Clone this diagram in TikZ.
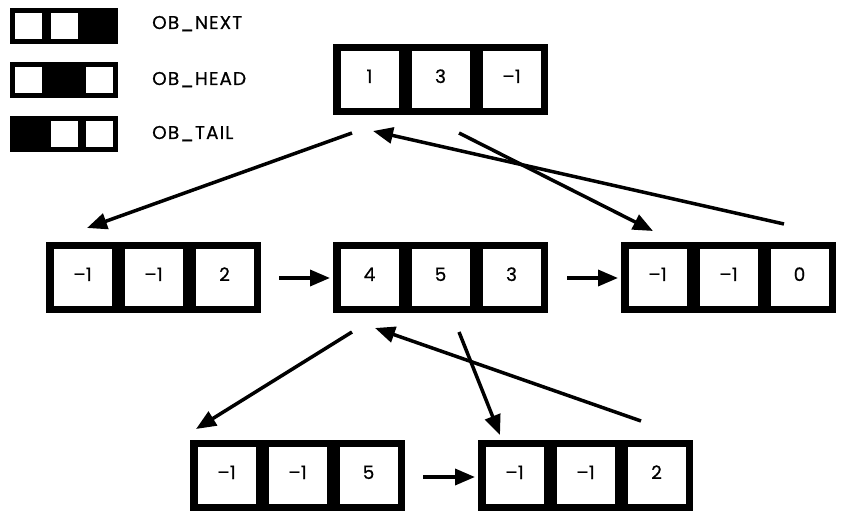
\documentclass[tikz,border=0pt]{standalone}
\usepackage{fontspec}
\setmainfont{Poppins}[FakeBold=0.6]
\newfontfamily\legfont{Poppins}[FakeBold=0.6, LetterSpace=6]
\usetikzlibrary{arrows.meta}
\tikzset{
  bigbox/.style={fill=black, draw=none, minimum width=215pt, minimum height=71pt, inner sep=0pt},
  cell/.style={fill=white, draw=none, minimum width=58pt, minimum height=57pt, inner sep=0pt,
    text height=13pt, text depth=6pt, font=\fontsize{18.5pt}{20pt}\selectfont},
  legbox/.style={fill=black, draw=none, minimum width=108pt, minimum height=36pt, inner sep=0pt},
  legcell/.style={fill=white, draw=none, minimum width=27pt, minimum height=26pt, inner sep=0pt},
  legtext/.style={anchor=base west, inner sep=0pt, font=\legfont\fontsize{18.5pt}{20pt}\selectfont},
  link/.style={line width=3.5pt, -{Triangle[length=20pt,width=16pt]}},
}
\newcommand\rowbox[5]{%
  \node[bigbox] (#1) at (#2+107.5, #3+35.5) {};
  \node[cell] (#1-a) at (#2+36.5, #3+35.5) {#4};
  \node[cell] (#1-b) at (#2+107.5, #3+35.5) {#5};
}
\newcommand\thirdcell[4]{\node[cell] (#1-c) at (#2+178.5, #3+35.5) {#4};}
\begin{document}
\begin{tikzpicture}[x=1pt, y=-1pt]
\useasboundingbox (0,0) rectangle (848,526);
% legend
\node[legbox] (lg1) at (64,26) {};
\node[legcell] (lg1-a) at (28.5,26) {};
\node[legcell] (lg1-b) at (64,26) {};
\node[legtext] (lt1) at (152,29) {OB\_NEXT};
\node[legbox] (lg2) at (64,80) {};
\node[legcell] (lg2-a) at (28.5,80) {};
\node[legcell] (lg2-c) at (99,80) {};
\node[legtext] (lt2) at (152,85) {OB\_HEAD};
\node[legbox] (lg3) at (64,134) {};
\node[legcell] (lg3-b) at (64,134) {};
\node[legcell] (lg3-c) at (99,134) {};
\node[legtext] (lt3) at (152,139) {OB\_TAIL};
% boxes
\rowbox{top}{333}{44}{1}{3}\thirdcell{top}{333}{44}{–1}
\rowbox{ml}{46}{242}{–1}{–1}\thirdcell{ml}{46}{242}{2}
\rowbox{mc}{333}{242}{4}{5}\thirdcell{mc}{333}{242}{3}
\rowbox{mr}{621}{242}{–1}{–1}\thirdcell{mr}{621}{242}{0}
\rowbox{bl}{190}{440}{–1}{–1}\thirdcell{bl}{190}{440}{5}
\rowbox{br}{478}{440}{–1}{–1}\thirdcell{br}{478}{440}{2}
% connector ends
\coordinate (a1s) at (352,133); \coordinate (a1e) at (87,228);
\coordinate (a2s) at (459,133); \coordinate (a2e) at (653,231);
\coordinate (a3s) at (784,224); \coordinate (a3e) at (373,131);
\coordinate (a4s) at (279,278); \coordinate (a4e) at (330,278);
\coordinate (a5s) at (567,278); \coordinate (a5e) at (618,278);
\coordinate (a6s) at (352,332); \coordinate (a6e) at (196,429);
\coordinate (a7s) at (459,332); \coordinate (a7e) at (500,435);
\coordinate (a8s) at (641,421); \coordinate (a8e) at (375,328);
\coordinate (a9s) at (423,477); \coordinate (a9e) at (475,477);
\draw[link] (a1s) -- (a1e);
\draw[link] (a2s) -- (a2e);
\draw[link] (a3s) -- (a3e);
\draw[link] (a4s) -- (a4e);
\draw[link] (a5s) -- (a5e);
\draw[link] (a6s) -- (a6e);
\draw[link] (a7s) -- (a7e);
\draw[link] (a8s) -- (a8e);
\draw[link] (a9s) -- (a9e);
\end{tikzpicture}
\end{document}
